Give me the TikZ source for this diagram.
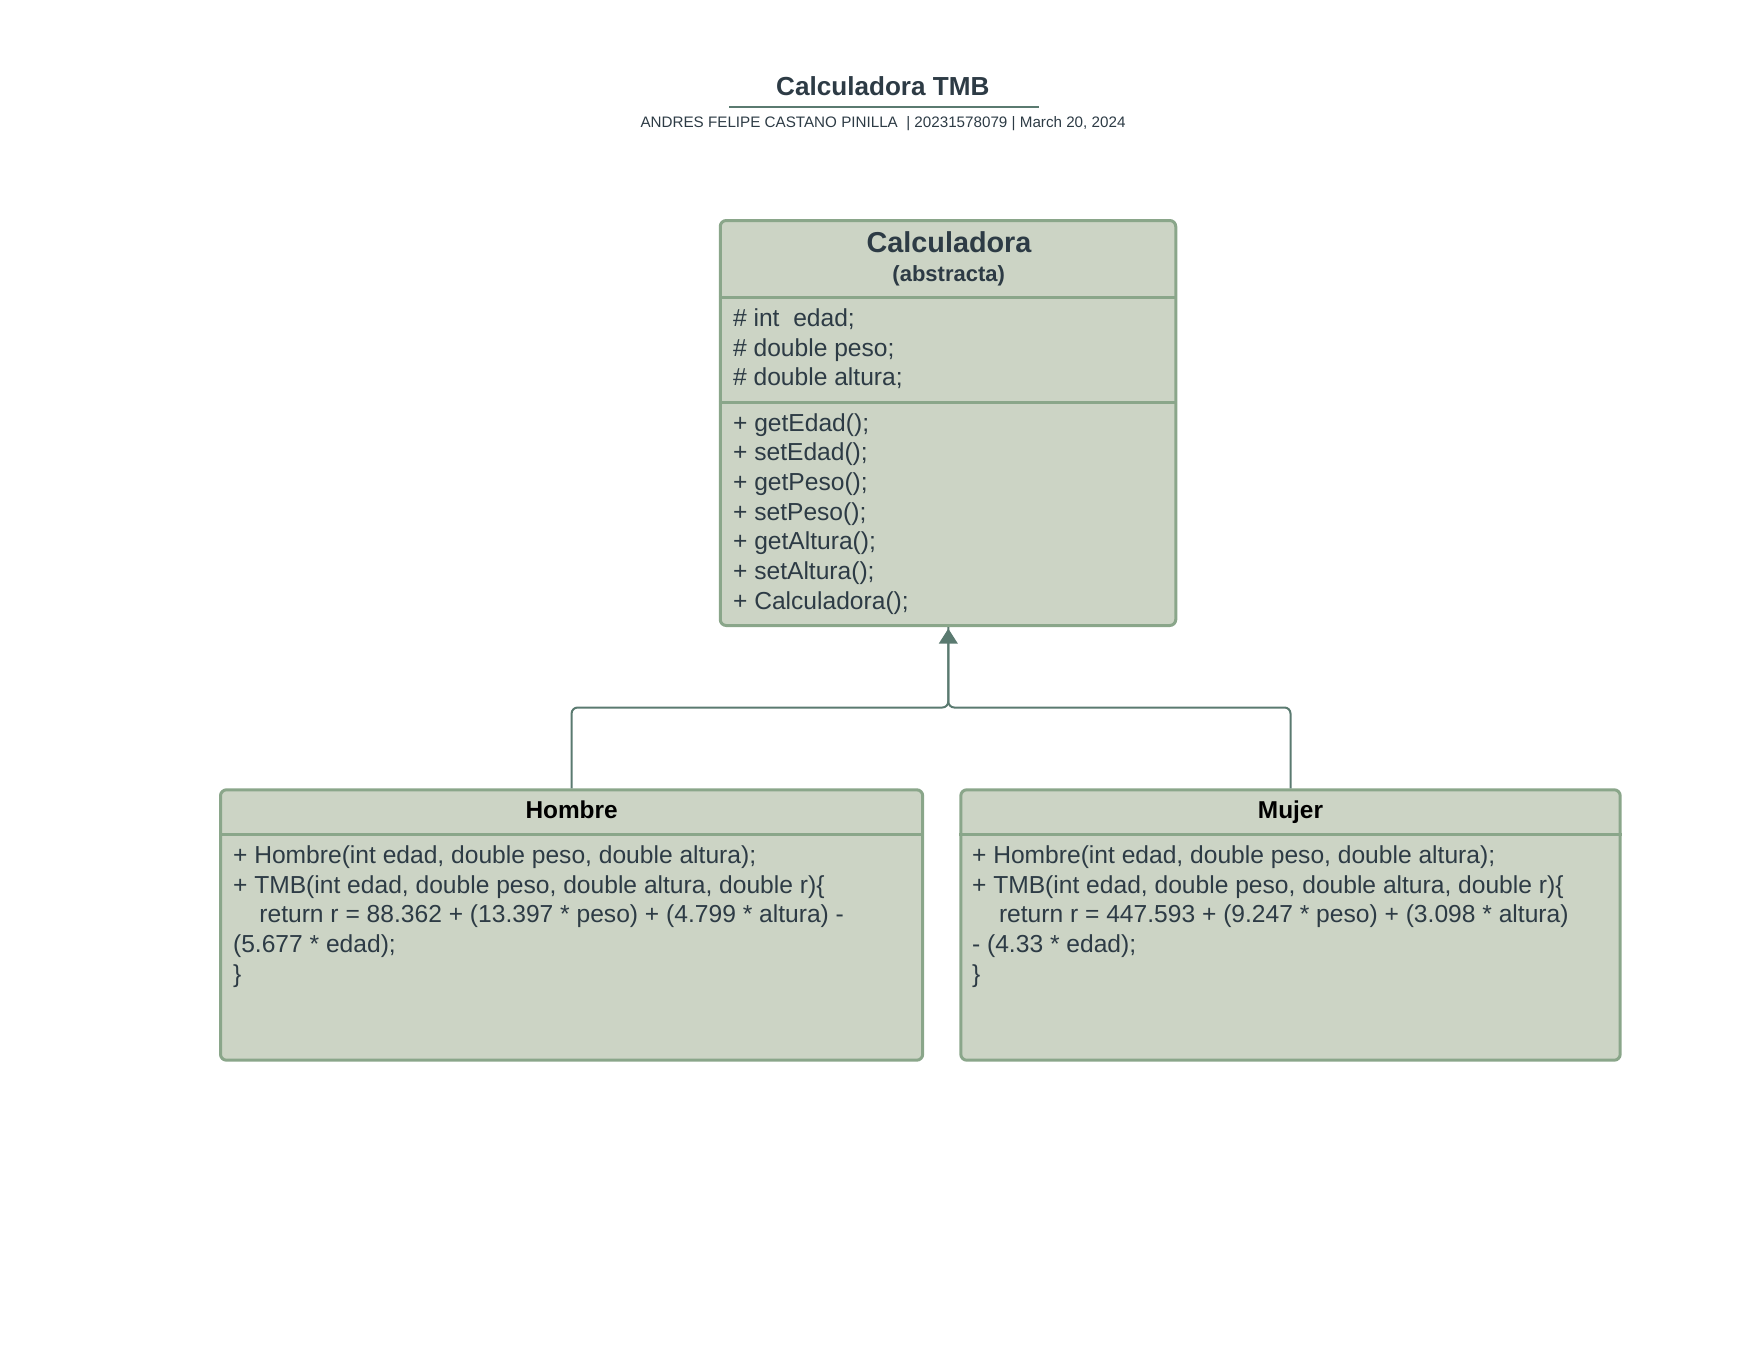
\documentclass[tikz,border=0pt]{standalone}
\usepackage{fontspec}
\setmainfont{Liberation Sans}
\usetikzlibrary{arrows.meta}
\definecolor{textc}{RGB}{45,59,69}
\definecolor{fillc}{RGB}{204,212,197}
\definecolor{borderc}{RGB}{138,166,138}
\definecolor{connc}{RGB}{90,122,112}
\tikzset{
  box/.style={draw=borderc, fill=fillc, line width=1.5pt, rounded corners=3pt, inner sep=0pt},
  divider/.style={draw=borderc, line width=1.5pt},
  conn/.style={draw=connc, line width=1pt, rounded corners=3pt},
  body/.style={anchor=base west, inner sep=0pt, text=textc, font=\fontsize{12.3}{14.8}\selectfont},
  ctitle/.style={anchor=base, inner sep=0pt, font=\bfseries\fontsize{12.2}{14.6}\selectfont, text=black}
}
\begin{document}
\begin{tikzpicture}[x=0.5pt,y=-0.5pt]
\useasboundingbox (0,0) rectangle (1760,1360);
% title
\node[anchor=base, inner sep=0pt, text=textc, font=\bfseries\fontsize{13.05}{15.6}\selectfont] (title) at (882.8,95.3) {Calculadora TMB};
\draw[connc, line width=1pt] (729,107) -- (1039,107);
\node[anchor=base, inner sep=0pt, text=textc, font=\fontsize{7.6}{9}\selectfont] (sub) at (883,127.7) {ANDRES FELIPE CASTANO PINILLA\ \ | 20231578079 | March 20, 2024};
% boxes
\node[box, minimum width=227.75pt, minimum height=202.5pt] (calc) at (948,423) {};
\node[box, minimum width=351.1pt, minimum height=135.2pt] (hom) at (571.6,925) {};
\node[box, minimum width=329.7pt, minimum height=135.2pt] (muj) at (1290.5,925) {};
% dividers
\draw[divider] (calc.west |- 0,297.3) -- (calc.east |- 0,297.3);
\draw[divider] (calc.west |- 0,402.7) -- (calc.east |- 0,402.7);
\draw[divider] (hom.west |- 0,834.5) -- (hom.east |- 0,834.5);
\draw[divider] (muj.west |- 0,834.5) -- (muj.east |- 0,834.5);
% Calculadora header
\node[anchor=base, inner sep=0pt, text=textc, font=\bfseries\fontsize{14.4}{17}\selectfont] (cname) at (949,252) {Calculadora};
\node[anchor=base, inner sep=0pt, text=textc, font=\bfseries\fontsize{11}{13}\selectfont] (cabs) at (948.7,281.5) {(abstracta)};
% attributes
\node[body] (a1) at (732.7,326.5) {\# int\ \ edad;};
\node[body] (a2) at (732.7,356) {\# double peso;};
\node[body] (a3) at (732.7,385.5) {\# double altura;};
% methods
\node[body] (m1) at (732.7,431) {+ getEdad();};
\node[body] (m2) at (732.7,460.7) {+ setEdad();};
\node[body] (m3) at (732.7,490.4) {+ getPeso();};
\node[body] (m4) at (732.7,520.1) {+ setPeso();};
\node[body] (m5) at (732.7,549.8) {+ getAltura();};
\node[body] (m6) at (732.7,579.5) {+ setAltura();};
\node[body] (m7) at (732.7,609.2) {+ Calculadora();};
% Hombre
\node[ctitle] (htitle) at (571.6,818) {Hombre};
\node[body] (h1) at (232.7,863.5) {+ Hombre(int edad, double peso, double altura);};
\node[body] (h2) at (232.7,893.2) {+ TMB(int edad, double peso, double altura, double r)\{};
\node[body] (h3) at (259,922.9) {return r = 88.362 + (13.397 * peso) + (4.799 * altura) -};
\node[body] (h4) at (232.7,952.6) {(5.677 * edad);};
\node[body] (h5) at (232.7,982.3) {\}};
% Mujer
\node[ctitle] (mtitle) at (1290.5,818) {Mujer};
\node[body] (w1) at (971.7,863.5) {+ Hombre(int edad, double peso, double altura);};
\node[body] (w2) at (971.7,893.2) {+ TMB(int edad, double peso, double altura, double r)\{};
\node[body] (w3) at (998.6,922.9) {return r = 447.593 + (9.247 * peso) + (3.098 * altura)};
\node[body] (w4) at (971.7,952.6) {- (4.33 * edad);};
\node[body] (w5) at (971.7,982.3) {\}};
% connectors
\coordinate (jn) at (948.3,707.5);
\draw[conn] (hom.north) -- (hom.north |- jn) -- (jn) -- (jn |- calc.south);
\draw[conn, -{Triangle[length=7.5pt,width=9.3pt]}] (muj.north) -- (muj.north |- jn) -- (jn) -- ([yshift=-0.8pt]jn |- calc.south);
\end{tikzpicture}
\end{document}
